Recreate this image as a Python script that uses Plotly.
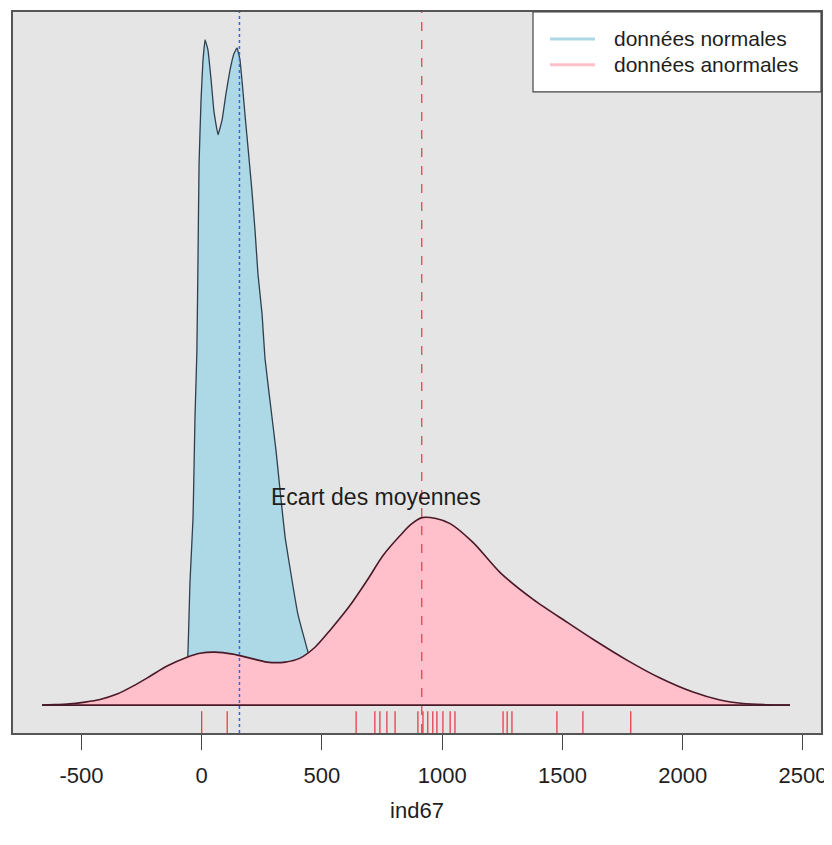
import plotly.graph_objects as go

# ---- data ----
# density of "données normales" (x value, density)
normal_x = [-90, -69, -57, -49, -36, -28, -20, -15, -11, -3, 5, 14, 26, 39, 51, 68, 85, 101, 118, 134,
            147, 159, 168, 180, 193, 209, 222, 234, 251, 263, 284, 309, 326, 347, 376, 400, 438, 471, 500, 533]
normal_d = [0, 0.0000675, 0.000239, 0.000549, 0.000846, 0.001296, 0.001598, 0.002048, 0.002439, 0.002723,
            0.002903, 0.003002, 0.002957, 0.002822, 0.002678, 0.002574, 0.002642, 0.002759, 0.002867, 0.002939,
            0.002966, 0.002912, 0.002813, 0.002664, 0.002511, 0.002318, 0.002138, 0.001944, 0.001764, 0.001566,
            0.001373, 0.001148, 0.000968, 0.000756, 0.000560, 0.000410, 0.000255, 0.000130, 0.000045, 0]

# density of "données anormales"
anormal_x = [-664, -610, -560, -485, -423, -352, -286, -215, -144, -61, -7, 55, 130, 201, 272, 347, 409,
             471, 534, 617, 688, 754, 825, 870, 916, 974, 1033, 1128, 1240, 1378, 1519, 1627, 1768, 1906,
             2043, 2155, 2251, 2343, 2446]
anormal_d = [0, 0.0000023, 0.0000045, 0.0000135, 0.0000250, 0.0000495, 0.0000855, 0.00013, 0.000176, 0.000216,
             0.000234, 0.000239, 0.000230, 0.000212, 0.000194, 0.000194, 0.000212, 0.000261, 0.000338,
             0.000450, 0.000563, 0.000675, 0.000765, 0.000815, 0.000846, 0.000842, 0.000819, 0.000734,
             0.000599, 0.000477, 0.000374, 0.000297, 0.000203, 0.000122, 0.0000585, 0.0000225, 0.0000068,
             0.0000018, 0]

# individual abnormal observations (rug)
rug_values = [0, 106, 642, 720, 741, 770, 804, 899, 920, 940, 961, 978, 1003, 1033, 1053,
              1253, 1270, 1290, 1477, 1585, 1784]

mean_normal = 157
mean_anormal = 915

tick_vals = [-500, 0, 500, 1000, 1500, 2000, 2500]
tick_text = ["-500", "0", "500", "1000", "1500", "2000", "2500"]

legend_labels = ["données normales", "données anormales"]
annotation_text = "Ecart des moyennes"
x_title = "ind67"

# ---- styling ----
C_BLUE = "#ADD8E6"
C_PINK = "#FFC0CB"
X_RANGE = [-784.6, 2575]
Y_RANGE = [-0.000126, 0.0031275]
FONT = "Liberation Sans, Arial, sans-serif"
TXT = "#1e1e1e"

# page has an 8px body margin: figure is offset by (8, 8)
OFF = 8
W, H = 832 - OFF, 845 - OFF
PL, PR, PT, PB = 13, 821, 10, 733       # plot area in page pixels

fig = go.Figure()

# blue density polygon
fig.add_trace(go.Scatter(
    x=normal_x, y=normal_d, mode="lines", fill="tozeroy", fillcolor=C_BLUE,
    line=dict(color="#2f3f4f", width=1.3, shape="spline", smoothing=0.3),
    showlegend=False, hoverinfo="skip"))

# pink density polygon (drawn on top)
fig.add_trace(go.Scatter(
    x=anormal_x, y=anormal_d, mode="lines", fill="tozeroy", fillcolor=C_PINK,
    line=dict(color="#4a1a28", width=1.6, shape="spline", smoothing=0.8),
    showlegend=False, hoverinfo="skip"))
# baseline of the pink polygon
fig.add_trace(go.Scatter(
    x=[anormal_x[0], anormal_x[-1]], y=[0, 0], mode="lines",
    line=dict(color="#4a1a28", width=1.6), showlegend=False, hoverinfo="skip"))

# rug
rug_len = 0.03 * (Y_RANGE[1] - Y_RANGE[0])
rx, ry = [], []
for v in rug_values:
    rx += [v, v, None]
    ry += [Y_RANGE[0], Y_RANGE[0] + rug_len, None]
fig.add_trace(go.Scatter(x=rx, y=ry, mode="lines",
                         line=dict(color="#e8303c", width=1.2),
                         showlegend=False, hoverinfo="skip"))

# mean lines
fig.add_shape(type="line", xref="x", yref="paper", x0=mean_normal, x1=mean_normal, y0=0, y1=1,
              line=dict(color="#3a64d8", width=1.5, dash="dot"))
fig.add_shape(type="line", xref="x", yref="paper", x0=mean_anormal, x1=mean_anormal, y0=0, y1=1,
              line=dict(color="#f0304f", width=1.2, dash="dash"))

# annotation
fig.add_annotation(x=725, y=max(anormal_d), xref="x", yref="y", text=annotation_text,
                   showarrow=False, yanchor="bottom", yshift=6,
                   font=dict(family=FONT, size=23, color=TXT))

# custom legend box (paper coords)
def px2paper_x(p):
    return (p - PL) / float(PR - PL)

def px2paper_y(p):
    return (PB - p) / float(PB - PT)

fig.add_shape(type="rect", xref="paper", yref="paper",
              x0=px2paper_x(533), x1=1, y0=px2paper_y(90), y1=1,
              fillcolor="white", line=dict(color="#444444", width=1.2), layer="above")
for i, (lab, col) in enumerate(zip(legend_labels, [C_BLUE, C_PINK])):
    yy = 37 + 26 * i
    fig.add_shape(type="line", xref="paper", yref="paper",
                  x0=px2paper_x(550), x1=px2paper_x(595), y0=px2paper_y(yy), y1=px2paper_y(yy),
                  line=dict(color=col, width=3), layer="above")
    fig.add_annotation(xref="paper", yref="paper", x=px2paper_x(612), y=px2paper_y(yy),
                       text=lab, showarrow=False, xanchor="left", yanchor="middle",
                       font=dict(family=FONT, size=21, color=TXT))

fig.update_layout(
    width=W, height=H,
    margin=dict(l=PL - OFF, r=W + OFF - PR, t=PT - OFF, b=H + OFF - PB),
    paper_bgcolor="white", plot_bgcolor="#E5E5E5",
    font=dict(family=FONT, color=TXT),
    showlegend=False,
    xaxis=dict(range=X_RANGE, tickvals=tick_vals, ticktext=tick_text,
               ticks="outside", ticklen=15, tickcolor="#444444", tickwidth=1.2,
               ticklabelstandoff=7,
               tickfont=dict(size=22, family=FONT, color=TXT),
               showgrid=False, zeroline=False,
               showline=True, linecolor="#555555", linewidth=1.5, mirror=True,
               title=dict(text=x_title, font=dict(size=22, family=FONT, color=TXT), standoff=15)),
    yaxis=dict(range=Y_RANGE, showticklabels=False, ticks="", showgrid=False, zeroline=False,
               showline=True, linecolor="#555555", linewidth=1.5, mirror=True),
)

fig.write_html("out.html")
